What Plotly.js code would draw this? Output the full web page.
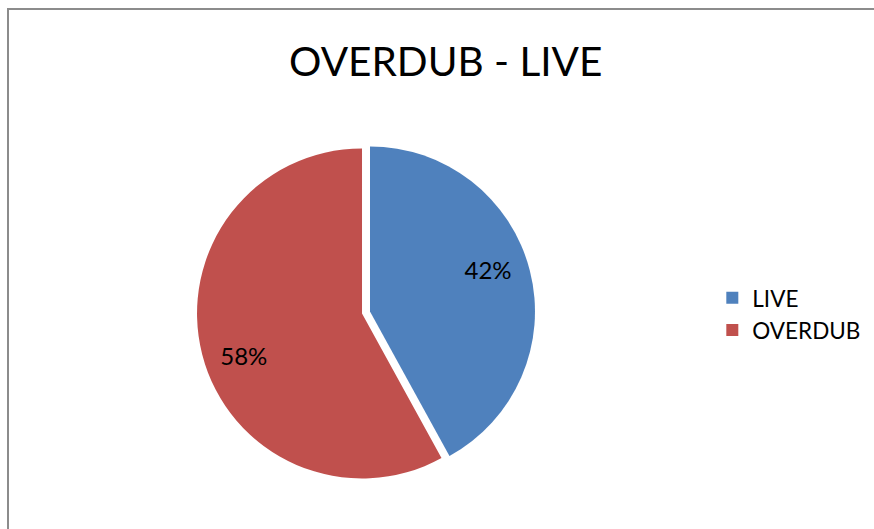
<!DOCTYPE html>
<html>
<head>
<meta charset="utf-8">
<script src="https://cdn.plot.ly/plotly-3.0.1.min.js"></script>
<style>html,body{margin:0;padding:0;background:#fff;}#chart{width:874px;height:529px;}</style>
</head>
<body>
<div id="chart"></div>
<script>
const categories = ["LIVE", "OVERDUB"];
const values = [42, 58];
const colors = ["#4F81BD", "#C0504D"];
const pulls = [0.05, 0];
const chartTitle = "OVERDUB - LIVE";

const FONT = "Lato, 'Open Sans', sans-serif";
const pieDomain = {x: [0.2160, 0.6124], y: [0.0799, 0.7349]};

const data = [{
  type: "pie",
  labels: categories,
  values: values,
  sort: false,
  direction: "clockwise",
  rotation: 0,
  pull: pulls,
  marker: {colors: colors, line: {width: 0}},
  textinfo: "none",
  hoverinfo: "label+percent",
  domain: pieDomain
}, {
  // label layer: same slices, transparent, text placed in the outer ring
  type: "pie",
  labels: categories,
  values: values,
  sort: false,
  direction: "clockwise",
  rotation: -5,
  hole: 0.52,
  pull: pulls,
  marker: {colors: ["rgba(0,0,0,0)", "rgba(0,0,0,0)"], line: {width: 0}},
  textinfo: "percent",
  texttemplate: "%{percent:.0%}",
  textposition: "inside",
  insidetextorientation: "horizontal",
  textfont: {family: FONT, size: 24, color: "#000"},
  hoverinfo: "skip",
  showlegend: false,
  domain: pieDomain
}];

const layout = {
  width: 874,
  height: 529,
  margin: {l: 0, r: 0, t: 0, b: 0},
  paper_bgcolor: "#ffffff",
  font: {family: FONT, color: "#000"},
  title: {
    text: chartTitle,
    font: {family: FONT, size: 40.5, color: "#000"},
    x: 0.510, xanchor: "center", xref: "paper",
    y: 0.883, yanchor: "middle", yref: "paper"
  },
  showlegend: true,
  legend: {
    x: 0.815, xanchor: "left",
    y: 0.406, yanchor: "middle",
    font: {family: FONT, size: 22.5, color: "#000"},
    bgcolor: "rgba(0,0,0,0)",
    itemwidth: 30
  },
  shapes: [{
    type: "rect", xref: "paper", yref: "paper",
    x0: 8 / 874, x1: 1.05, y0: -0.05, y1: 1 - 9 / 529,
    line: {color: "#8C8C8C", width: 2},
    fillcolor: "rgba(0,0,0,0)", layer: "below"
  }]
};

Plotly.newPlot("chart", data, layout, {displayModeBar: false, staticPlot: true});
</script>
</body>
</html>
